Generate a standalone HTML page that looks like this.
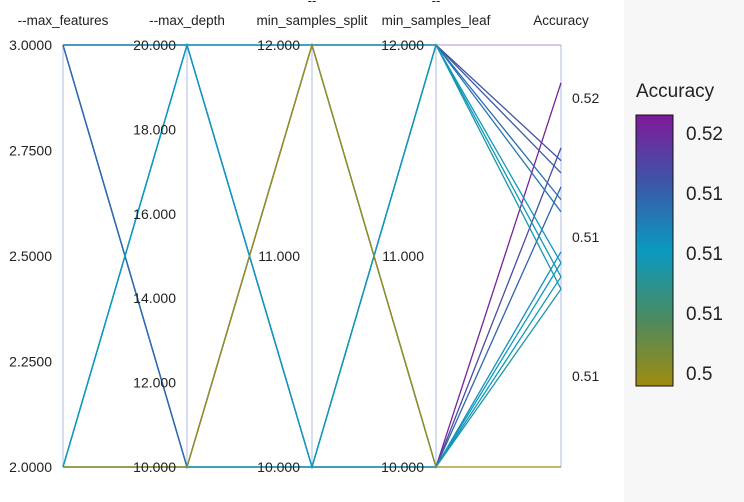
<!DOCTYPE html>
<html><head><meta charset="utf-8"><style>
body{margin:0;width:744px;height:502px;background:#fff;font-family:"Liberation Sans",sans-serif;overflow:hidden;position:relative}
#panel{position:absolute;left:624px;top:0;width:120px;height:502px;background:#f7f7f7}
text{font-family:"Liberation Sans",sans-serif}
</style></head><body>
<div id="panel"></div>
<svg id="chart" width="744" height="502" style="position:absolute;left:0;top:0">
<defs><linearGradient id="cg" x1="0" y1="1" x2="0" y2="0">
<stop offset="0" stop-color="#a08c10"/><stop offset="0.25" stop-color="#4a8a60"/><stop offset="0.5" stop-color="#0a9ac0"/><stop offset="0.75" stop-color="#3c56a8"/><stop offset="1" stop-color="#801a9a"/></linearGradient></defs>
<g id="axes"></g><g id="lines"></g><g id="labels"></g>
<text x="636" y="97" font-size="19" fill="#222">Accuracy</text>
<rect x="636" y="115" width="37" height="271" fill="url(#cg)" stroke="#111" stroke-width="1"/>
<g font-size="19" fill="#222">
<text x="686" y="140">0.52</text>
<text x="686" y="200">0.51</text>
<text x="686" y="260">0.51</text>
<text x="686" y="320">0.51</text>
<text x="686" y="380">0.5</text>
</g>
</svg>
<script>
const dims=["--max_features","--max_depth","min_samples_split","min_samples_leaf","Accuracy"];
const maxFeatures=[3,3,3,3,2,2,2,2,2,3,3,3,2,2,3,2];
const maxDepth=[20,20,10,10,20,20,10,10,10,20,10,10,20,20,20,10];
const minSplit=[12,10,12,10,12,10,12,10,12,10,12,10,12,10,12,10];
const minLeaf=[12,12,12,12,12,12,12,12,10,10,10,10,10,10,10,10];
const accuracy=[0.51845,0.51637,0.51615,0.51567,0.51545,0.51453,0.51406,0.51428,0.51086,0.51777,0.5166,0.5159,0.51473,0.51453,0.51428,0.51406];
const featTicks=["3.0000","2.7500","2.5000","2.2500","2.0000"];
const depthTicks=["20.000","18.000","16.000","14.000","12.000","10.000"];
const accTicks=[0.5175,0.515,0.5125];
const accTickLabels=["0.52","0.51","0.51"];
const X=[63,187,312,436,561],T=45,B=467;
const doms=[[2,3],[10,20],[10,12],[10,12],[0.51086,0.51845]];
function yS(i,v){const d=doms[i];return B-(v-d[0])/(d[1]-d[0])*(B-T);}
const stops=[[0,[160,140,16]],[0.25,[74,138,96]],[0.5,[10,154,192]],[0.75,[60,86,168]],[1,[128,26,154]]];
function col(v){let t=(v-0.5110)/(0.5180-0.5110);t=Math.max(0,Math.min(1,t));
for(let k=1;k<stops.length;k++){if(t<=stops[k][0]){const a=stops[k-1],b=stops[k],u=(t-a[0])/(b[0]-a[0]);
return "rgb("+a[1].map((c,j)=>Math.round(c+(b[1][j]-c)*u)).join(",")+")";}}return "rgb(128,26,154)";}
const NS="http://www.w3.org/2000/svg";
function mk(tag,at,par){const e=document.createElementNS(NS,tag);for(const k in at)e.setAttribute(k,at[k]);par.appendChild(e);return e;}
const ax=document.getElementById('axes'),ln=document.getElementById('lines'),lb=document.getElementById('labels');
X.forEach((x,i)=>{const a=mk('line',{x1:x,y1:T,x2:x,y2:B,stroke:"#c8d2ec","stroke-width":1.5},ax);

});
const maxAcc=Math.max(...accuracy);
const sorted=accuracy.map((v,i)=>i).sort((a,b)=>accuracy[b]-accuracy[a]);
sorted.forEach(i=>{const vals=[maxFeatures[i],maxDepth[i],minSplit[i],minLeaf[i],accuracy[i]];
const pts=vals.map((v,j)=>X[j]+","+yS(j,v).toFixed(1)).join(" ");
const p=mk('polyline',{points:pts,fill:"none",stroke:accuracy[i]===maxAcc?"#cfa0dc":col(accuracy[i]),"stroke-width":1.3},ln);

});
function txt(s,x,y,anchor,size){const t=mk('text',{x:x,y:y,"text-anchor":anchor,"font-size":size||14,fill:"#222"},lb);t.textContent=s;return t;}
const hdr=[["--max_features",63],["--max_depth",187],["min_samples_split",312],["min_samples_leaf",436],["Accuracy",561]];
hdr.forEach(h=>{const t=txt(h[0],h[1],25,"middle",13.5);

});
[312,436].forEach(x=>{const t=txt("--",x,5,"middle",13);

});
featTicks.forEach((s,k)=>{const t=txt(s,52,T+k*(B-T)/4+5,"end");

});
depthTicks.forEach((s,k)=>{const y=yS(1,parseFloat(s));const t=txt(s,176,y+5,"end");

});
[2,3].forEach(j=>{["12.000","11.000","10.000"].forEach(s=>{const t=txt(s,X[j]-12,yS(j,parseFloat(s))+5,"end");

});});
accTicks.forEach((v,k)=>{const t=txt(accTickLabels[k],572,yS(4,v)+5,"start");

});
</script>
</body></html>
